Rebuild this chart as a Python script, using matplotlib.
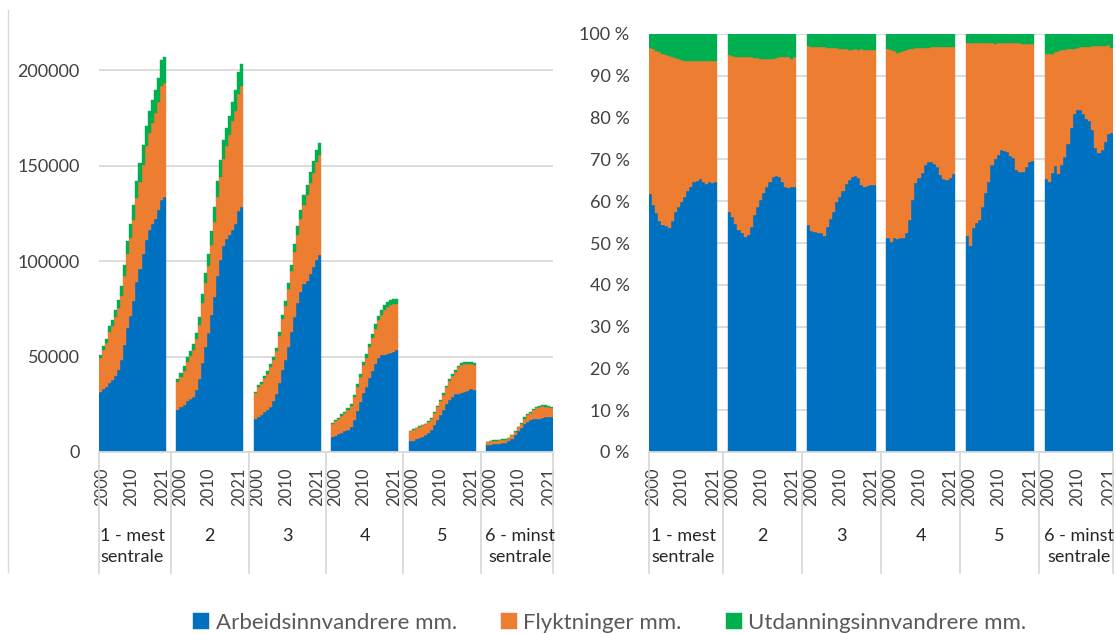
import numpy as np
import matplotlib.pyplot as plt
import matplotlib.transforms as mtransforms
from matplotlib.lines import Line2D
from matplotlib.ticker import FuncFormatter

plt.rcParams['font.family'] = ['Lato', 'DejaVu Sans']

# Data: totals per year (left panel) and shares in % (right panel)
years = np.arange(2000, 2022)
groups = ["1 - mest\nsentrale", "2", "3", "4", "5", "6 - minst\nsentrale"]
series = ["Arbeidsinnvandrere mm.", "Flyktninger mm.", "Utdanningsinnvandrere mm."]
colors = ["#0070C0", "#ED7D31", "#00B050"]

total_1 = [50800, 55500, 59400, 65800, 69300, 74200, 79700, 86700, 97900, 110600, 119400,
           129600, 142200, 151400, 160900, 171000, 178600, 184500, 189800, 195900, 205200, 206900]
total_2 = [38500, 41500, 45000, 49900, 52900, 56400, 62500, 70700, 82600, 94000, 103600,
           115600, 128200, 142200, 153200, 163200, 169800, 175800, 183300, 189400, 199100, 203100]
total_3 = [31600, 34900, 36600, 39800, 42400, 45900, 49700, 54600, 63000, 72000, 79000,
           88300, 98200, 109000, 118200, 127000, 134500, 140000, 146700, 152300, 158000, 161800]
total_4 = [15400, 16700, 18000, 19700, 21100, 22900, 24900, 29800, 35400, 40600, 47300,
           51100, 56700, 61600, 66800, 71200, 74300, 76900, 78500, 79400, 80100, 80100]
total_5 = [11100, 11800, 12800, 13500, 14200, 14900, 16000, 17700, 20700, 24200, 27200,
           30700, 34700, 38200, 40900, 43000, 45300, 46500, 47000, 47200, 47400, 46800]
total_6 = [5400, 5800, 6100, 6300, 6500, 6700, 6800, 7500, 9000, 11100, 13300,
           15400, 18100, 19800, 21200, 22500, 23700, 24200, 24600, 24400, 24000, 23700]

arb_pct_1 = [61.7, 59.0, 57.2, 55.2, 54.3, 54.0, 53.6, 55.3, 57.5, 58.5, 59.8,
             61.0, 62.5, 63.4, 64.5, 64.9, 65.2, 64.6, 64.2, 64.6, 64.3, 64.5]
arb_pct_2 = [57.5, 56.3, 54.5, 53.2, 52.3, 51.5, 51.9, 53.9, 56.7, 58.7, 60.3,
             61.9, 63.5, 64.7, 65.7, 66.1, 65.7, 64.7, 63.5, 63.1, 63.3, 63.3]
arb_pct_3 = [54.3, 52.9, 52.7, 52.3, 52.3, 51.6, 53.9, 55.8, 57.5, 59.9, 61.1,
             62.5, 64.1, 65.1, 65.9, 66.1, 65.5, 63.9, 63.5, 63.7, 63.8, 63.9]
arb_pct_4 = [51.3, 50.3, 51.1, 50.9, 51.1, 51.1, 52.3, 55.5, 60.3, 64.3, 65.5,
             66.7, 68.7, 69.3, 69.3, 69.0, 68.3, 66.3, 65.3, 65.1, 65.5, 66.5]
arb_pct_5 = [51.6, 49.2, 53.7, 54.7, 55.6, 58.5, 62.0, 64.5, 68.7, 70.1, 71.1,
             72.3, 72.1, 71.7, 70.7, 70.3, 67.5, 66.9, 67.1, 68.1, 69.3, 69.5]
arb_pct_6 = [65.3, 64.5, 66.7, 68.5, 66.5, 68.7, 70.5, 73.7, 77.5, 80.9, 81.7,
             81.9, 80.9, 79.7, 79.1, 77.1, 72.7, 71.5, 72.3, 74.1, 76.1, 76.3]

utd_pct_1 = [3.4, 3.7, 4.1, 4.4, 4.7, 5.0, 5.3, 5.5, 5.8, 6.1, 6.3,
             6.4, 6.5, 6.5, 6.5, 6.4, 6.5, 6.5, 6.4, 6.5, 6.5, 6.5]
utd_pct_2 = [5.1, 5.3, 5.5, 5.5, 5.4, 5.5, 5.4, 5.6, 5.7, 5.8, 5.9,
             6.0, 6.1, 6.1, 5.9, 5.8, 5.6, 5.6, 5.5, 5.6, 5.9, 5.6]
utd_pct_3 = [2.9, 3.0, 3.1, 3.1, 3.2, 3.2, 3.3, 3.3, 3.3, 3.4, 3.5,
             3.6, 3.6, 3.8, 3.8, 3.7, 3.8, 3.7, 3.9, 3.9, 3.9, 3.9]
utd_pct_4 = [3.6, 3.8, 4.1, 4.5, 4.3, 4.1, 3.8, 3.6, 3.5, 3.4, 3.4,
             3.3, 3.3, 3.3, 3.2, 3.2, 3.1, 3.1, 3.1, 3.1, 3.1, 3.1]
utd_pct_5 = [2.1, 2.1, 2.2, 2.2, 2.2, 2.2, 2.2, 2.2, 2.2, 2.3, 2.2,
             2.2, 2.2, 2.2, 2.1, 2.1, 2.1, 2.2, 2.3, 2.4, 2.5, 2.5]
utd_pct_6 = [4.9, 4.9, 4.7, 4.4, 4.1, 3.8, 3.8, 3.6, 3.6, 3.5, 3.3,
             3.2, 3.1, 3.0, 3.0, 2.9, 2.9, 2.9, 2.9, 2.8, 2.7, 3.3]

totals = [total_1, total_2, total_3, total_4, total_5, total_6]
arb_pct = [arb_pct_1, arb_pct_2, arb_pct_3, arb_pct_4, arb_pct_5, arb_pct_6]
utd_pct = [utd_pct_1, utd_pct_2, utd_pct_3, utd_pct_4, utd_pct_5, utd_pct_6]

W, H = 1116, 634
fig = plt.figure(figsize=(W / 100, H / 100), dpi=100)


def axes_px(x0, y0, x1, y1):
    return fig.add_axes([x0 / W, 1 - y1 / H, (x1 - x0) / W, (y1 - y0) / H])


ax1 = axes_px(99, 32, 553, 452)
ax2 = axes_px(649, 34, 1113, 452)

n = len(years)
gap = 3.5
grid_c = '#d9d9d9'
text_c = '#404040'

for g in range(len(groups)):
    x = g * (n + gap) + np.arange(n)
    tot = np.array(totals[g], dtype=float)
    arb = np.array(arb_pct[g])
    utd = np.array(utd_pct[g])
    shares = [arb, 100 - arb - utd, utd]
    b_abs = np.zeros(n)
    b_pct = np.zeros(n)
    for s, c, lab in zip(shares, colors, series):
        ax1.bar(x, tot * s / 100, width=1.0, bottom=b_abs, align='edge', color=c,
                edgecolor=c, linewidth=0.3, label=lab if g == 0 else None)
        ax2.bar(x, s, width=1.0, bottom=b_pct, align='edge', color=c,
                edgecolor=c, linewidth=0.3)
        b_abs += tot * s / 100
        b_pct += s

span = len(groups) * n + (len(groups) - 1) * gap
# year labels sit a little inside each group, as in the original
tick_pos = []
tick_lab = []
for g in range(len(groups)):
    for i, off in [(0, 1.2), (10, 0.5), (21, -0.3)]:
        tick_pos.append(g * (n + gap) + i + off)
        tick_lab.append(str(years[i]))

for ax in (ax1, ax2):
    ax.set_xlim(0, span)
    ax.set_xticks(tick_pos)
    ax.set_xticklabels(tick_lab, rotation=90, fontsize=12, color=text_c)
    ax.tick_params(axis='x', length=0, pad=11)
    ax.tick_params(axis='y', length=0, pad=14, labelsize=13, labelcolor=text_c)
    ax.grid(axis='y', color=grid_c, linewidth=1.3)
    ax.set_axisbelow(True)
    for side in ['top', 'right', 'left']:
        ax.spines[side].set_visible(False)
    ax.spines['bottom'].set_color(grid_c)
    ax.spines['bottom'].set_linewidth(1.3)

    # group labels and separators below the axis
    trans = mtransforms.blended_transform_factory(ax.transData, fig.transFigure)
    bounds = [0] + [g * (n + gap) - gap / 2 for g in range(1, len(groups))] + [span]
    for b in bounds:
        ax.add_line(Line2D([b, b], [1 - 452 / H, 1 - 573 / H], transform=trans,
                           color=grid_c, linewidth=1.3, clip_on=False))
    for g, name in enumerate(groups):
        ax.text(g * (n + gap) + n / 2, 1 - 528 / H, name, transform=trans,
                ha='center', va='top', fontsize=13, color='#262626', linespacing=1.35)

ax1.set_ylim(0, 220000)
ax1.set_yticks([0, 50000, 100000, 150000, 200000])
ax1.yaxis.set_major_formatter(FuncFormatter(lambda v, p: f"{int(v)}"))

ax2.set_ylim(0, 100)
ax2.set_yticks(np.arange(0, 101, 10))
ax2.yaxis.set_major_formatter(FuncFormatter(lambda v, p: f"{int(v)} %"))

# thin border line on the far left
fig.add_artist(Line2D([8 / W, 8 / W], [1 - 572 / H, 1 - 10 / H], color=grid_c, linewidth=1))

handles, labels = ax1.get_legend_handles_labels()
fig.legend(handles, labels, loc='center', bbox_to_anchor=(610 / W, 1 - 623 / H), ncol=3,
           frameon=False, fontsize=16, labelcolor='#595959', handlelength=0.7,
           handleheight=0.7, handletextpad=0.3, columnspacing=2.0)

fig.savefig('out.png', dpi=100)
